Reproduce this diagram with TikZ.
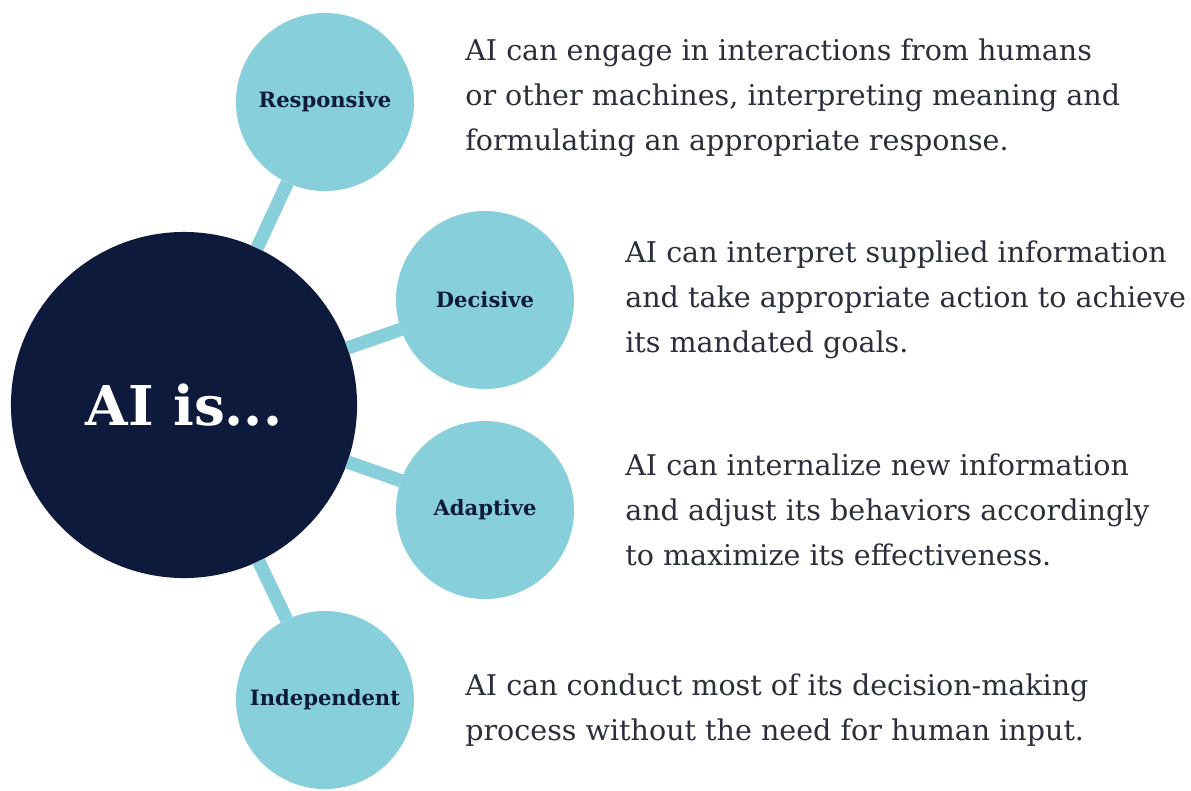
\documentclass[tikz,border=0pt]{standalone}
\usepackage{fontspec}
\setmainfont{DejaVu Serif}
\usetikzlibrary{positioning}
\definecolor{navy}{HTML}{0D1A3C}
\definecolor{sky}{HTML}{88CFDC}
\definecolor{ink}{HTML}{2B2F3B}

\begin{document}
\begin{tikzpicture}[
  x=0.025cm, y=-0.025cm,
  core/.style={circle, fill=navy, minimum size=8.65cm, inner sep=0pt, outer sep=0pt,
    text=white, font=\fontsize{39}{39}\selectfont\bfseries},
  trait/.style={circle, fill=sky, minimum size=4.45cm, inner sep=0pt, outer sep=0pt,
    text=navy, font=\fontsize{15}{18}\selectfont\bfseries},
  desc/.style={align=left, inner sep=0pt, anchor=west, text=ink,
    font=\fontsize{20.3}{32}\selectfont},
  link/.style={sky, line width=9.5pt}
]
\useasboundingbox (0,0) rectangle (1191,790);

% centre
\node[core] (ai) at (184,405) {AI is...};

% traits
\node[trait] (resp) at (325,102) {Responsive};
\node[trait] (deci) at (485,300) {Decisive};
\node[trait] (adap) at (485,510) {Adaptive};
\node[trait] (inde) at (325,700) {Independent};

% descriptions
\node[desc, right=1.275cm of resp, yshift=0.1cm] (tresp) {AI can engage in interactions from humans\\
  or other machines, interpreting meaning and\\ formulating an appropriate response.};
\node[desc, right=1.275cm of deci] (tdeci) {AI can interpret supplied information\\
  and take appropriate action to achieve\\ its mandated goals.};
\node[desc, right=1.275cm of adap] (tadap) {AI can internalize new information\\
  and adjust its behaviors accordingly\\ to maximize its effectiveness.};
\node[desc, right=1.275cm of inde, yshift=-0.25cm] (tinde) {AI can conduct most of its decision-making\\
  process without the need for human input.};

\foreach \t in {resp,deci,adap,inde}
  \draw[link] (ai) -- (\t);
\end{tikzpicture}
\end{document}
